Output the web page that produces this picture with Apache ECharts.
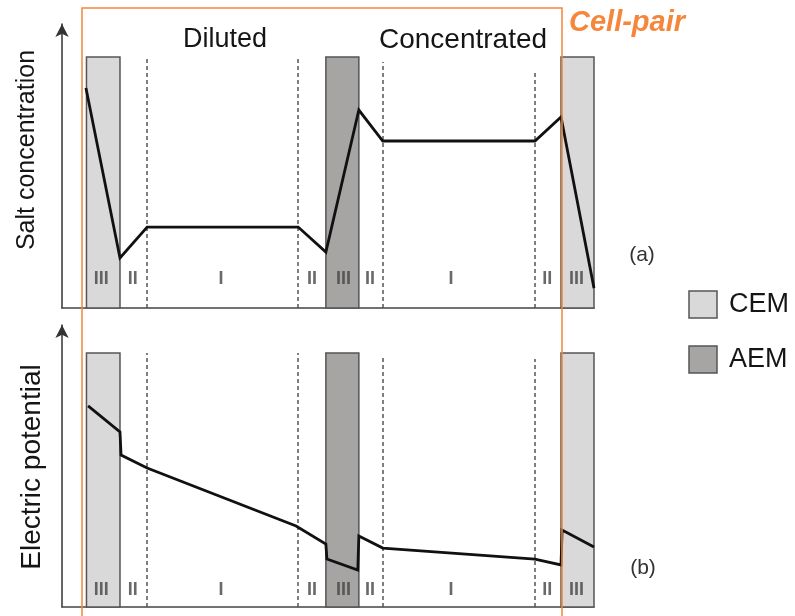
<!DOCTYPE html>
<html>
<head>
<meta charset="utf-8">
<title>Cell-pair concentration and potential profiles</title>
<script src="https://cdn.jsdelivr.net/npm/echarts@6/dist/echarts.min.js"></script>
<style>
  html, body { margin: 0; padding: 0; background: #fff; }
  #chart { width: 795px; height: 616px; }
</style>
</head>
<body>
<div id="chart"></div>
<script>
// Position across the stack, 0 = left end of the axis, 100 = right end (arbitrary units)
const membraneNames = ['CEM', 'AEM', 'CEM'];
const membraneStart = [4.6, 49.6, 93.8];
const membraneEnd = [10.9, 55.8, 100];
const membraneTopSalt = 88.4;
const membraneTopPotential = 90.1;

// Edges of the diffusion boundary layers (dashed lines)
const layerEdges = [16.0, 44.4, 60.3, 88.9];
const layerEdgeTopSalt = [88.4, 88.4, 86.6, 83.8];
const layerEdgeTopPotential = [90.1, 90.1, 88.3, 87.9];

// Zone markers: I bulk, II boundary layer, III membrane
const zoneNames = ['III', 'II', 'I', 'II', 'III', 'II', 'I', 'II', 'III'];
const zoneX = [7.4, 13.3, 29.9, 47.0, 52.9, 57.9, 73.1, 91.2, 96.7];
const zoneYSalt = 10.2;
const zoneYPotential = 6.0;

// (a) salt concentration profile
const saltX = [4.5, 10.9, 16.0, 44.4, 49.6, 55.8, 60.3, 88.9, 93.8, 100];
const saltY = [77.5, 17.6, 28.5, 28.5, 19.7, 69.7, 58.8, 58.8, 67.3, 7.0];

// (b) electric potential profile
const potX = [4.9, 10.9, 11.1, 16.0, 44.0, 49.6, 49.8, 55.6, 55.8, 60.3, 88.9, 93.8, 94.0, 100];
const potY = [71.3, 62.1, 53.9, 49.3, 28.7, 22.3, 17.0, 13.1, 25.2, 20.9, 17.0, 14.9, 27.3, 21.3];

const membraneColors = { CEM: '#d9d9d9', AEM: '#a7a4a4' };
const FONT = '"Liberation Sans", Arial, sans-serif';
const ORANGE = '#f5873c';
const INK = '#151515';

function zip(xs, ys) { return xs.map((x, i) => [x, ys[i]]); }

function membraneAreas(top) {
  return membraneNames.map((name, i) => [
    { name: name, xAxis: membraneStart[i], yAxis: 0, itemStyle: { color: membraneColors[name] } },
    { xAxis: membraneEnd[i], yAxis: top }
  ]);
}

function edgeLines(tops) {
  return layerEdges.map((x, i) => [{ coord: [x, 0] }, { coord: [x, tops[i]] }]);
}

function zonePoints(y) {
  return zoneNames.map((n, i) => ({ name: n, value: [zoneX[i], y] }));
}

function xAxisDef(gridIndex) {
  return {
    type: 'value', gridIndex: gridIndex, min: 0, max: 100,
    axisLine: { show: true, lineStyle: { color: '#444', width: 1.5 } },
    axisTick: { show: false }, axisLabel: { show: false }, splitLine: { show: false }
  };
}
function yAxisDef(gridIndex) {
  return {
    type: 'value', gridIndex: gridIndex, min: 0, max: 100,
    axisLine: { show: true, symbol: ['none', 'arrow'], symbolSize: [10, 13],
                lineStyle: { color: '#333', width: 1.5 } },
    axisTick: { show: false }, axisLabel: { show: false }, splitLine: { show: false }
  };
}

function panelSeries(idx, name, xs, ys, memTop, edgeTops, zoneY) {
  return [
    {
      type: 'line', name: name, xAxisIndex: idx, yAxisIndex: idx,
      data: zip(xs, ys), symbol: 'none', z: 5,
      lineStyle: { color: '#111', width: 2.8, join: 'miter' },
      markArea: {
        silent: true,
        itemStyle: { borderColor: '#555', borderWidth: 1.5 },
        label: { show: false },
        data: membraneAreas(memTop)
      },
      markLine: {
        silent: true, symbol: 'none',
        label: { show: false },
        lineStyle: { color: '#555', width: 1.5, type: [4, 3] },
        data: edgeLines(edgeTops)
      }
    },
    {
      type: 'scatter', xAxisIndex: idx, yAxisIndex: idx, symbolSize: 0, z: 6,
      data: zonePoints(zoneY),
      label: {
        show: true, position: 'inside', formatter: p => p.name,
        color: '#444', fontFamily: FONT, fontWeight: 'bold', fontSize: 18
      }
    }
  ];
}

const chart = echarts.init(document.getElementById('chart'), null, { renderer: 'canvas' });
chart.setOption({
  animation: false,
  backgroundColor: '#fff',
  grid: [
    { left: 62, top: 24, width: 532, height: 284 },
    { left: 62, top: 325, width: 532, height: 282 }
  ],
  xAxis: [xAxisDef(0), xAxisDef(1)],
  yAxis: [yAxisDef(0), yAxisDef(1)],
  series: [
    ...panelSeries(0, 'Salt concentration', saltX, saltY, membraneTopSalt, layerEdgeTopSalt, zoneYSalt),
    ...panelSeries(1, 'Electric potential', potX, potY, membraneTopPotential, layerEdgeTopPotential, zoneYPotential)
  ],
  graphic: [
    // cell-pair frame
    { type: 'rect', z: 100, silent: true,
      shape: { x: 82, y: 8, width: 480, height: 640 },
      style: { fill: 'none', stroke: ORANGE, lineWidth: 1.5 } },
    { type: 'text', left: 569, top: 8, z: 100,
      style: { text: 'Cell-pair', fill: ORANGE, font: 'italic bold 29px ' + FONT } },
    { type: 'text', z: 100, x: 225, y: 40,
      style: { text: 'Diluted', fill: INK, font: '27px ' + FONT, align: 'center', verticalAlign: 'middle' } },
    { type: 'text', z: 100, x: 463, y: 40,
      style: { text: 'Concentrated', fill: INK, font: '28px ' + FONT, align: 'center', verticalAlign: 'middle' } },
    // axis titles
    { type: 'text', z: 100, x: 27, y: 150, rotation: Math.PI / 2,
      style: { text: 'Salt concentration', fill: INK, font: '25px ' + FONT, align: 'center', verticalAlign: 'middle' } },
    { type: 'text', z: 100, x: 32, y: 467, rotation: Math.PI / 2,
      style: { text: 'Electric potential', fill: INK, font: '28px ' + FONT, align: 'center', verticalAlign: 'middle' } },
    // panel tags
    { type: 'text', z: 100, x: 642, y: 255,
      style: { text: '(a)', fill: '#333', font: '21px ' + FONT, align: 'center', verticalAlign: 'middle' } },
    { type: 'text', z: 100, x: 643, y: 568,
      style: { text: '(b)', fill: '#333', font: '21px ' + FONT, align: 'center', verticalAlign: 'middle' } },
    // membrane key
    { type: 'rect', z: 100, shape: { x: 689, y: 291, width: 28, height: 27 },
      style: { fill: membraneColors.CEM, stroke: '#555', lineWidth: 1.5 } },
    { type: 'text', z: 100, x: 729, y: 305,
      style: { text: 'CEM', fill: INK, font: '27px ' + FONT, verticalAlign: 'middle' } },
    { type: 'rect', z: 100, shape: { x: 689, y: 346, width: 28, height: 27 },
      style: { fill: membraneColors.AEM, stroke: '#555', lineWidth: 1.5 } },
    { type: 'text', z: 100, x: 729, y: 360,
      style: { text: 'AEM', fill: INK, font: '27px ' + FONT, verticalAlign: 'middle' } }
  ]
});
</script>
</body>
</html>
